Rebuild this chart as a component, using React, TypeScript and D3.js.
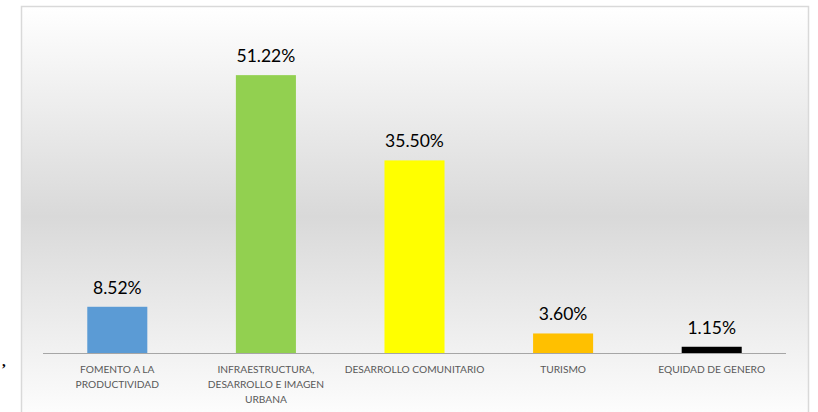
import React from "react";
import * as d3 from "d3";

const categories = [
  "FOMENTO A LA PRODUCTIVIDAD",
  "INFRAESTRUCTURA, DESARROLLO E IMAGEN URBANA",
  "DESARROLLO COMUNITARIO",
  "TURISMO",
  "EQUIDAD DE GENERO",
];
const categoryLines = [
  ["FOMENTO A LA", "PRODUCTIVIDAD"],
  ["INFRAESTRUCTURA,", "DESARROLLO E IMAGEN", "URBANA"],
  ["DESARROLLO COMUNITARIO"],
  ["TURISMO"],
  ["EQUIDAD DE GENERO"],
];
const values = [8.52, 51.22, 35.5, 3.6, 1.15];
const colors = ["#5b9bd5", "#92d050", "#ffff00", "#ffc000", "#000000"];

const W = 818;
const H = 412;
const FONT = "Lato, 'Open Sans', sans-serif";

export default function App() {
  const x = d3
    .scaleBand<string>()
    .domain(categories)
    .range([43, 786])
    .paddingInner(0.596)
    .paddingOuter(0.298);
  const y = d3.scaleLinear().domain([0, 60]).range([353, 353 - 60 * 5.425]);

  return (
    <svg
      width={W}
      height={H}
      style={{ position: "absolute", left: 0, top: 0 }}
      xmlns="http://www.w3.org/2000/svg"
    >
      <defs>
        <linearGradient id="bg" x1="0" y1="0" x2="0" y2="1">
          <stop offset="0" stopColor="#ffffff" />
          <stop offset="0.5" stopColor="#d9d9d9" />
          <stop offset="1" stopColor="#ffffff" />
        </linearGradient>
      </defs>
      <rect x={0} y={0} width={W} height={H} fill="#ffffff" />
      <rect
        x={21.5}
        y={6.5}
        width={787}
        height={420}
        fill="url(#bg)"
        stroke="#d9d9d9"
        strokeWidth={1.5}
      />
      <text x={2} y={366} fontFamily="'Liberation Serif', serif" fontSize={15} fontWeight="bold" fill="#000">
        ,
      </text>
      {categories.map((c, i) => {
        const bx = x(c)!;
        const bw = x.bandwidth();
        const top = y(values[i]);
        return (
          <g key={c}>
            <rect x={bx} y={top} width={bw} height={y(0) - top} fill={colors[i]} />
            <text
              x={bx + bw / 2}
              y={top - 13}
              textAnchor="middle"
              fontFamily={FONT}
              fontSize={17.5}
              fill="#000"
            >
              {values[i].toFixed(2) + "%"}
            </text>
            {categoryLines[i].map((ln, j) => (
              <text
                key={j}
                x={bx + bw / 2}
                y={373.3 + j * 15}
                textAnchor="middle"
                fontFamily={FONT}
                fontSize={10.2}
                fill="#595959"
              >
                {ln}
              </text>
            ))}
          </g>
        );
      })}
      <line x1={43} x2={786} y1={353.5} y2={353.5} stroke="#a6a6a6" strokeWidth={1} />
    </svg>
  );
}
